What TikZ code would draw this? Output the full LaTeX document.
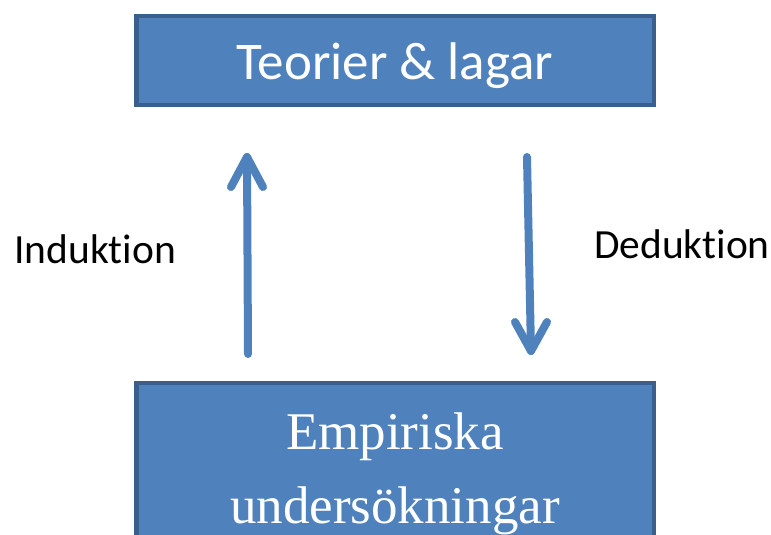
\documentclass[tikz,border=0pt]{standalone}
\usepackage{fontspec}
\setmainfont[Ligatures=NoCommon]{Carlito}
\newfontfamily\serifface{Liberation Serif}
\definecolor{boxfill}{HTML}{4F81BD}
\definecolor{boxline}{HTML}{3A5F8D}
\begin{document}
\begin{tikzpicture}[x=1pt,y=-1pt,
  box/.style={draw=boxline,fill=boxfill,line width=4.5pt,rectangle,inner sep=0pt},
  flow/.style={draw=boxfill,line width=8pt,line cap=round,line join=round},
  boxtext/.style={text=white,anchor=base,inner sep=0pt},
  side/.style={text=black,anchor=base west,inner sep=0pt,font=\fontsize{41.5}{49}\selectfont}]
  \useasboundingbox (0,0) rectangle (771,535);
  \begin{scope}
    \clip (0,0) rectangle (771,535);
    % boxes
    \node[box,minimum width=517.5pt,minimum height=88.5pt] (theory) at (395,60.5) {};
    \node[box,minimum width=517.5pt,minimum height=170pt] (empiri) at (395,468) {};
  \end{scope}
  % box labels
  \node[boxtext,font=\fontsize{53}{64}\selectfont] (theorytext) at (395,79) {Teorier \& lagar};
  \node[boxtext,font=\serifface\fontsize{53}{64}\selectfont] (emp1) at (395,449.5) {Empiriska};
  \node[boxtext,font=\serifface\fontsize{53}{64}\selectfont] (emp2) at (395,523) {undersökningar};
  % side labels
  \node[side] (ind) at (14,263) {Induktion};
  \node[side] (ded) at (594,258) {Deduktion};
  % induction arrow (upwards)
  \coordinate (indfoot) at (248,354);
  \coordinate (indtip) at (247,157);
  \coordinate (indl) at (231,187);
  \coordinate (indr) at (263,187);
  \draw[flow] (indfoot) -- (indtip);
  \draw[flow] (indl) -- (indtip) -- (indr);
  % deduction arrow (downwards)
  \coordinate (dedtop) at (527,157);
  \coordinate (dedtip) at (531,351);
  \coordinate (dedl) at (515,322);
  \coordinate (dedr) at (547,322);
  \draw[flow] (dedtop) -- (dedtip);
  \draw[flow] (dedl) -- (dedtip) -- (dedr);
\end{tikzpicture}
\end{document}
